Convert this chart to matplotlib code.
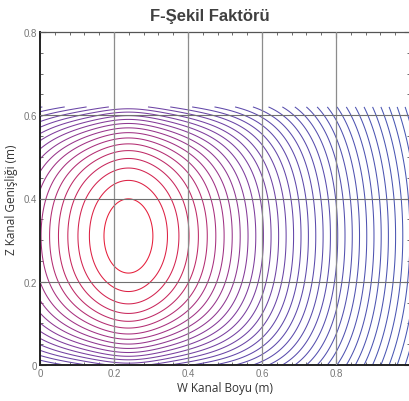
import numpy as np
import matplotlib
matplotlib.use('Agg')
import matplotlib.pyplot as plt
from matplotlib.colors import LinearSegmentedColormap
from matplotlib.ticker import MultipleLocator

# values
w_range = [0.0, 1.0]          # W kanal boyu (m), plotted domain
z_range = [0.0, 0.62]         # Z kanal genisligi (m), plotted domain
peak_w = 0.239                # centre of the closed contours
peak_z = 0.31
core = 0.155                  # flattening of the surface near the peak
z_weight_near = 0.49          # squared vertical weight at the peak column
z_weight_far = 0.79           # squared vertical weight far along w
z_weight_turn = 0.15
edge_gain = 13.7              # extra rise towards the z edges
edge_power = 3.8
edge_reach = 0.38             # how far in w the edge rise reaches
level_start = 0.1685
level_step = 0.019
n_levels = 36

x_ticks = [0, 0.2, 0.4, 0.6, 0.8]
x_tick_labels = ['0', '0.2', '0.4', '0.6', '0.8']
y_ticks = [0, 0.2, 0.4, 0.6, 0.8]
y_tick_labels = ['0', '0.2', '0.4', '0.6', '0.8']

line_colors = ['#e61e3a', '#cc2658', '#a8307e', '#803c9c', '#6048aa', '#5052b0', '#4858b4']
color_stops = [0.0, 0.08, 0.18, 0.32, 0.5, 0.75, 1.0]

W, Z = np.meshgrid(np.linspace(w_range[0], w_range[1], 500),
                   np.linspace(z_range[0], z_range[1], 320))
dw = W - peak_w
dz = Z - peak_z
ramp = dw ** 2 / (dw ** 2 + z_weight_turn ** 2)
zw2 = z_weight_near + (z_weight_far - z_weight_near) * ramp
base = np.sqrt(core ** 2 + dw ** 2 + zw2 * dz ** 2)
edge = edge_gain * np.abs(dz) ** edge_power * np.exp(-(dw / edge_reach) ** 2)
F = base + edge

levels = level_start + level_step * np.arange(n_levels)
cmap = LinearSegmentedColormap.from_list('f_lines', list(zip(color_stops, line_colors)))

fig = plt.figure(figsize=(4.09, 4.02), dpi=100)
ax = fig.add_axes([40 / 409, 36 / 402, 370 / 409, 333 / 402])

ax.contour(W, Z, F, levels=levels, cmap=cmap, vmin=levels[0], vmax=0.80,
           linewidths=0.75, zorder=2)

ax.set_xlim(0, 1.0)
ax.set_ylim(0, 0.8)
ax.set_xticks(x_ticks)
ax.set_xticklabels(x_tick_labels)
ax.set_yticks(y_ticks)
ax.set_yticklabels(y_tick_labels)
ax.xaxis.set_minor_locator(MultipleLocator(0.04))
ax.yaxis.set_minor_locator(MultipleLocator(0.05))
ax.tick_params(which='both', direction='in', top=True, right=True,
               colors='#555555', labelcolor='#777777', labelsize=7, pad=2)
ax.tick_params(which='major', length=4, width=0.8)
ax.tick_params(which='minor', length=2.5, width=0.6)
for lab in ax.get_xticklabels() + ax.get_yticklabels():
    lab.set_family('Liberation Sans')

for v in x_ticks[1:]:
    ax.axvline(v, color='#8c8c8c', lw=0.9, zorder=3)
for v in y_ticks[1:4]:
    ax.axhline(v, color='#707070', lw=0.8, zorder=3)

for side in ['left', 'bottom']:
    ax.spines[side].set_linewidth(1.4)
    ax.spines[side].set_color('#222222')
for side in ['top', 'right']:
    ax.spines[side].set_linewidth(0.9)
    ax.spines[side].set_color('#555555')

ax.set_xlabel('W Kanal Boyu (m)', fontsize=8.5, color='#333333',
              family='Open Sans', labelpad=2)
ax.set_ylabel('Z Kanal Genişliği (m)', fontsize=8.5, color='#333333',
              family='Open Sans', labelpad=4)
fig.text(210 / 409, 1 - 16 / 402, 'F-Şekil Faktörü', ha='center', va='center',
         fontsize=12, fontweight='bold', color='#404040', family='Liberation Sans')

fig.savefig('out.png', dpi=100)
